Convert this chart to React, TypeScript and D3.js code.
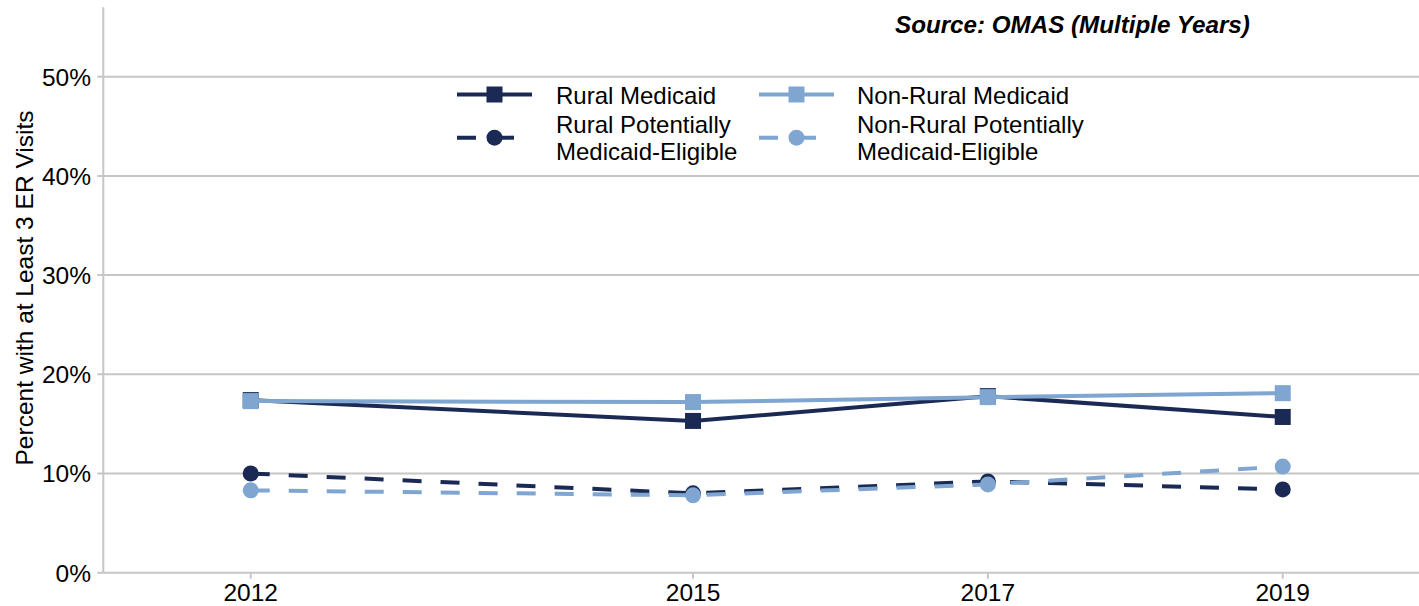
import React from "react";
import * as d3 from "d3";

const years = [2012, 2015, 2017, 2019];
const ruralMedicaid = [17.4, 15.3, 17.8, 15.7];
const nonRuralMedicaid = [17.3, 17.2, 17.7, 18.1];
const ruralPME = [10.0, 8.0, 9.2, 8.4];
const nonRuralPME = [8.3, 7.8, 8.9, 10.7];
const yTicks = [0, 10, 20, 30, 40, 50];

const DARK = "#1b2a55";
const LIGHT = "#7ea6d1";
const GRID = "#c6c6c6";
const FONT = "'Liberation Sans', Arial, sans-serif";

const W = 1419;
const H = 606;

type Series = { name: string[]; values: number[]; color: string; dashed: boolean; marker: "square" | "circle" };

const series: Series[] = [
  { name: ["Rural Medicaid"], values: ruralMedicaid, color: DARK, dashed: false, marker: "square" },
  { name: ["Rural Potentially", "Medicaid-Eligible"], values: ruralPME, color: DARK, dashed: true, marker: "circle" },
  { name: ["Non-Rural Medicaid"], values: nonRuralMedicaid, color: LIGHT, dashed: false, marker: "square" },
  { name: ["Non-Rural Potentially", "Medicaid-Eligible"], values: nonRuralPME, color: LIGHT, dashed: true, marker: "circle" },
];

function Marker({ kind, x, y, color }: { kind: string; x: number; y: number; color: string }) {
  if (kind === "square") return <rect x={x - 8} y={y - 8} width={16} height={16} fill={color} />;
  return <circle cx={x} cy={y} r={8} fill={color} />;
}

export default function App() {
  const x = d3.scaleLinear().domain([2011, 2020]).range([103.3, 103.3 + 9 * 147.43]);
  const y = d3.scaleLinear().domain([0, 57]).range([572.7, 7.3]);
  const line = d3
    .line<number>()
    .x((_, i) => x(years[i]))
    .y((d) => y(d));

  const x0 = x.range()[0];
  const legendPos = [
    { lx: 457, ly: 94.5, tx: 556, ty: [103.5] },
    { lx: 457, ly: 137.7, tx: 556, ty: [133, 159.5] },
    { lx: 759, ly: 94.5, tx: 857, ty: [103.5] },
    { lx: 759, ly: 137.7, tx: 857, ty: [133, 159.5] },
  ];

  return (
    <svg
      width={W}
      height={H}
      style={{ position: "absolute", left: 0, top: 0, background: "#fff" }}
      fontFamily={FONT}
    >
      <rect x={0} y={0} width={W} height={H} fill="#fff" />
      {yTicks.map((t) => (
        <g key={t}>
          <line x1={x0 - 6} x2={W} y1={y(t)} y2={y(t)} stroke={GRID} strokeWidth={2} />
          <text x={91} y={y(t)} dy="0.36em" textAnchor="end" fontSize={24.5} fill="#000">
            {t}%
          </text>
        </g>
      ))}
      <line x1={x0} x2={x0} y1={y(57)} y2={y(0)} stroke={GRID} strokeWidth={2} />
      {years.map((yr) => (
        <g key={yr}>
          <line x1={x(yr)} x2={x(yr)} y1={y(0)} y2={y(0) + 6} stroke={GRID} strokeWidth={2} />
          <text x={x(yr)} y={600.5} textAnchor="middle" fontSize={24.5} fill="#000">
            {yr}
          </text>
        </g>
      ))}
      <text
        transform={`translate(33,288) rotate(-90)`}
        textAnchor="middle"
        fontSize={24.5}
        fill="#000"
      >
        Percent with at Least 3 ER Visits
      </text>
      <text x={895} y={33} fontSize={24.2} fontWeight="bold" fontStyle="italic" fill="#000">
        Source: OMAS (Multiple Years)
      </text>
      {series.map((s, si) => (
        <g key={si}>
          <path
            d={line(s.values) || ""}
            fill="none"
            stroke={s.color}
            strokeWidth={4}
            strokeDasharray={s.dashed ? "19,19" : undefined}
          />
          {s.values.map((v, i) => (
            <Marker key={i} kind={s.marker} x={x(years[i])} y={y(v)} color={s.color} />
          ))}
        </g>
      ))}
      {series.map((s, si) => {
        const p = legendPos[si];
        return (
          <g key={"lg" + si}>
            <line
              x1={p.lx}
              x2={p.lx + 75}
              y1={p.ly}
              y2={p.ly}
              stroke={s.color}
              strokeWidth={4}
              strokeDasharray={s.dashed ? "19,19" : undefined}
            />
            <Marker kind={s.marker} x={p.lx + 37.5} y={p.ly} color={s.color} />
            {s.name.map((n, k) => (
              <text key={k} x={p.tx} y={p.ty[k]} fontSize={24} fill="#000">
                {n}
              </text>
            ))}
          </g>
        );
      })}
    </svg>
  );
}
